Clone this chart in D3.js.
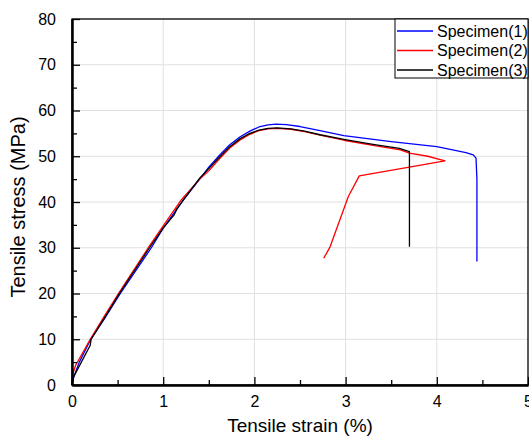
<!DOCTYPE html>
<html>
<head>
<meta charset="utf-8">
<script src="https://cdn.jsdelivr.net/npm/d3@7"></script>
<style>
  body { margin: 0; background: #fff; }
  svg { display: block; font-family: Arial, "Liberation Sans", sans-serif; }
  .grid line { stroke: #e0e0e0; stroke-width: 1; }
  .curve { fill: none; stroke-width: 1.3; stroke-linejoin: round; }
</style>
</head>
<body>
<svg width="529" height="439"></svg>
<script>
// Specimen(1)
const strain1 = [0, 0.02, 0.08, 0.2, 0.36, 0.53, 0.87, 1.0, 1.22, 1.4, 1.5, 1.62, 1.73, 1.84, 1.95, 2.05, 2.15, 2.24, 2.35, 2.5, 2.72, 2.98, 3.5, 4.0, 4.32, 4.4, 4.43, 4.44, 4.44];
const stress1 = [0, 1.8, 5.0, 9.8, 14.6, 20, 30, 34.3, 40.4, 45.0, 47.6, 50.3, 52.5, 54.2, 55.5, 56.4, 56.85, 57.0, 56.9, 56.5, 55.6, 54.5, 53.2, 52.1, 50.8, 50.3, 49.6, 45, 27.0];
// Specimen(2)
const strain2 = [0, 0.01, 0.04, 0.085, 0.2, 0.36, 0.52, 0.85, 1.0, 1.2, 1.4, 1.5, 1.62, 1.73, 1.84, 1.95, 2.05, 2.15, 2.25, 2.4, 2.55, 2.72, 2.98, 3.3, 3.6, 3.7, 3.9, 4.09, 3.15, 3.03, 2.83, 2.76];
const stress2 = [0, 2.5, 4.3, 5.9, 10, 15.2, 20.3, 30.4, 34.8, 40.5, 45.0, 46.8, 49.5, 51.8, 53.5, 54.8, 55.6, 56.0, 56.1, 55.9, 55.4, 54.6, 53.5, 52.4, 51.4, 50.7, 50.0, 49.0, 45.7, 41.2, 30.2, 27.7];
// Specimen(3)
const strain3 = [0, 0.01, 0.2, 0.21, 0.36, 0.52, 0.85, 1.0, 1.12, 1.15, 1.14, 1.22, 1.4, 1.5, 1.62, 1.73, 1.84, 1.95, 2.05, 2.15, 2.25, 2.4, 2.55, 2.72, 2.98, 3.3, 3.59, 3.7, 3.7];
const stress3 = [0, 1.5, 8.7, 10, 14.8, 20, 30, 34.3, 37.2, 38.4, 38.2, 40.4, 45.2, 47.3, 49.9, 52.1, 53.8, 55.0, 55.7, 56.1, 56.2, 56.0, 55.5, 54.7, 53.7, 52.6, 51.7, 51.0, 30.2];

const names = ["Specimen(1)", "Specimen(2)", "Specimen(3)"];
const colors = ["#0000ff", "#ff0000", "#000000"];
const xTicks = [0, 1, 2, 3, 4, 5];
const yTicks = [0, 10, 20, 30, 40, 50, 60, 70, 80];

const margin = { top: 19, left: 72, right: 1, bottom: 54 };
const svg = d3.select("svg");
const width = 529 - margin.left - margin.right;
const height = 439 - margin.top - margin.bottom;

const x = d3.scaleLinear().domain([0, 5]).range([0, width]);
const y = d3.scaleLinear().domain([0, 80]).range([height, 0]);

const g = svg.append("g").attr("transform", "translate(" + margin.left + "," + margin.top + ")");

// Grid
const grid = g.append("g").attr("class", "grid");
grid.selectAll("line.v")
  .data(xTicks.slice(1, -1))
  .enter()
  .append("line")
  .attr("x1", d => x(d)).attr("x2", d => x(d))
  .attr("y1", 0).attr("y2", height);
grid.selectAll("line.h")
  .data(yTicks.slice(1, -1))
  .enter()
  .append("line")
  .attr("y1", d => y(d)).attr("y2", d => y(d))
  .attr("x1", 0).attr("x2", width);

// Curves
const series = [
  d3.zip(strain1, stress1),
  d3.zip(strain2, stress2),
  d3.zip(strain3, stress3)
];
const line = d3.line().x(d => x(d[0])).y(d => y(d[1]));
g.selectAll("path.curve")
  .data(series)
  .enter()
  .append("path")
  .attr("class", "curve")
  .attr("stroke", (d, i) => colors[i])
  .attr("d", line);

// Frame
g.append("rect")
  .attr("width", width).attr("height", height)
  .attr("fill", "none").attr("stroke", "#000").attr("stroke-width", 1.3);

// Axes with inward ticks
const xAxis = d3.axisBottom(x).tickValues(xTicks).tickSizeInner(-8).tickSizeOuter(0).tickPadding(11).tickFormat(d3.format("d"));
const xMinor = d3.axisBottom(x).tickValues([0.5, 1.5, 2.5, 3.5, 4.5]).tickSizeInner(-5).tickSizeOuter(0).tickFormat("");
const yAxis = d3.axisLeft(y).tickValues(yTicks).tickSizeInner(-8).tickSizeOuter(0).tickPadding(16).tickFormat(d3.format("d"));
const yMinor = d3.axisLeft(y).tickValues([5, 15, 25, 35, 45, 55, 65, 75]).tickSizeInner(-5).tickSizeOuter(0).tickFormat("");

function styleAxis(sel) {
  sel.select(".domain").attr("stroke", "#000").attr("stroke-width", 2);
  sel.selectAll(".tick line").attr("stroke", "#000").attr("stroke-width", 1.3);
  sel.selectAll(".tick text").attr("fill", "#000").style("font-size", "16px").style("font-family", "Arial, 'Liberation Sans', sans-serif");
}
g.append("g").attr("transform", "translate(0," + height + ")").call(xMinor).call(styleAxis);
g.append("g").attr("transform", "translate(0," + height + ")").call(xAxis).call(styleAxis);
g.append("g").call(yMinor).call(styleAxis);
g.append("g").call(yAxis).call(styleAxis);

// Axis titles
svg.append("text")
  .attr("x", 300)
  .attr("y", 432)
  .attr("text-anchor", "middle")
  .style("font-size", "19px")
  .text("Tensile strain (%)");
svg.append("text")
  .attr("transform", "translate(25,207) rotate(-90)")
  .attr("text-anchor", "middle")
  .style("font-size", "20px")
  .text("Tensile stress (MPa)");

// Legend
const legend = svg.append("g").attr("transform", "translate(395,19)");
legend.append("rect")
  .attr("width", 133).attr("height", 59)
  .attr("fill", "#fff").attr("stroke", "#000").attr("stroke-width", 1);
const items = legend.selectAll("g.item")
  .data(names)
  .enter()
  .append("g")
  .attr("transform", (d, i) => "translate(0," + (12 + i * 19.5) + ")");
items.append("line")
  .attr("x1", 2).attr("x2", 38)
  .attr("stroke", (d, i) => colors[i])
  .attr("stroke-width", 1.3);
items.append("text")
  .attr("x", 42)
  .attr("dy", "0.35em")
  .style("font-size", "16px")
  .text(d => d);
</script>
</body>
</html>
